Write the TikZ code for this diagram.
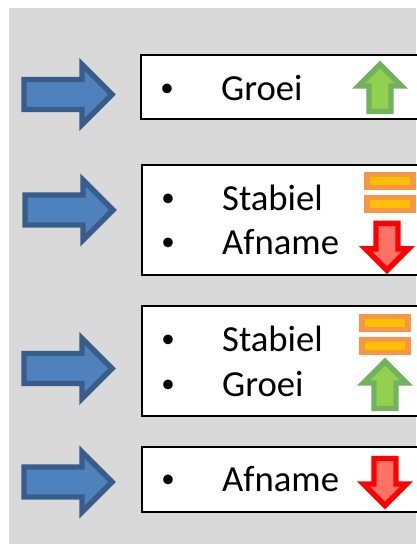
\documentclass[tikz,border=0pt]{standalone}
\usepackage{fontspec}
\setmainfont{Carlito}
\definecolor{panelgray}{HTML}{D9D9D9}
\definecolor{blueline}{HTML}{385D8A}
\definecolor{bluefill}{HTML}{4F81BD}
\definecolor{greenline}{HTML}{72B25E}
\definecolor{greenfill}{HTML}{92D050}
\definecolor{redfill}{HTML}{FF7366}
\definecolor{orangeline}{HTML}{F79646}
\definecolor{orangefill}{HTML}{FFC000}
\tikzset{
	itembox/.style={draw=black,fill=white,line width=1.4pt},
	itemtext/.style={anchor=base west,inner sep=0pt,font=\fontsize{36.7}{36.7}\selectfont},
	itemdot/.style={anchor=base,inner sep=0pt,yshift=3.8pt,font=\fontsize{27}{27}\selectfont},
	symbol/.style={line width=5.4pt,miter limit=10},
	pics/sidearrow/.style={code={
		\draw[symbol,draw=blueline,fill=bluefill] (-45,-15) -- (13,-15) -- (13,-30) -- (43,0) -- (13,30) -- (13,15) -- (-45,15) -- cycle;
	}},
	pics/uparrow/.style={code={
		\draw[symbol,draw=greenline,fill=greenfill] (0,-23) -- (21.5,-1.5) -- (11,-1.5) -- (11,24) -- (-11,24) -- (-11,-1.5) -- (-21.5,-1.5) -- cycle;
	}},
	pics/downarrow/.style={code={
		\draw[symbol,draw=red,fill=redfill] (0,23) -- (21.5,1.5) -- (11,1.5) -- (11,-24) -- (-11,-24) -- (-11,1.5) -- (-21.5,1.5) -- cycle;
	}},
	pics/equalbars/.style={code={
		\draw[symbol,draw=orangeline,fill=orangefill] (-23,-18) rectangle (23,-5);
		\draw[symbol,draw=orangeline,fill=orangefill] (-23,5) rectangle (23,18);
	}}
}
\begin{document}
\begin{tikzpicture}[x=1pt,y=-1pt]
	\useasboundingbox (0,0) rectangle (416,544);
	\fill[white] (0,0) rectangle (416,544);
	\fill[panelgray] (9,8) rectangle (416,544);
	% boxes run off the right edge
	\draw[itembox] (141,55) rectangle (425,119);
	\draw[itembox] (142,165) rectangle (425,275);
	\draw[itembox] (142,306) rectangle (425,416);
	\draw[itembox] (142,447) rectangle (425,512);
	\foreach \px/\py in {69/94.5,70/210,69/368.5,69/482}
		\pic at (\px,\py) {sidearrow};
	% text lines
	\foreach \name/\tx/\dx/\ty/\label in {groeia/221/167/100/Groei,stabiela/222/168/210/Stabiel,afnamea/222/168/254/Afname,stabielb/222/168/351/Stabiel,groeib/222/168/396/Groei,afnameb/222/168/491/Afname}{
		\node[itemdot] (dot\name) at (\dx,\ty) {•};
		\node[itemtext] (\name) at (\tx,\ty) {\label};
	}
	\pic at (380,87.5) {uparrow};
	\pic at (390,192.3) {equalbars};
	\pic at (387,247.3) {downarrow};
	\pic at (385,334.5) {equalbars};
	\pic at (385,384.5) {uparrow};
	\pic at (385,482.5) {downarrow};
\end{tikzpicture}
\end{document}
